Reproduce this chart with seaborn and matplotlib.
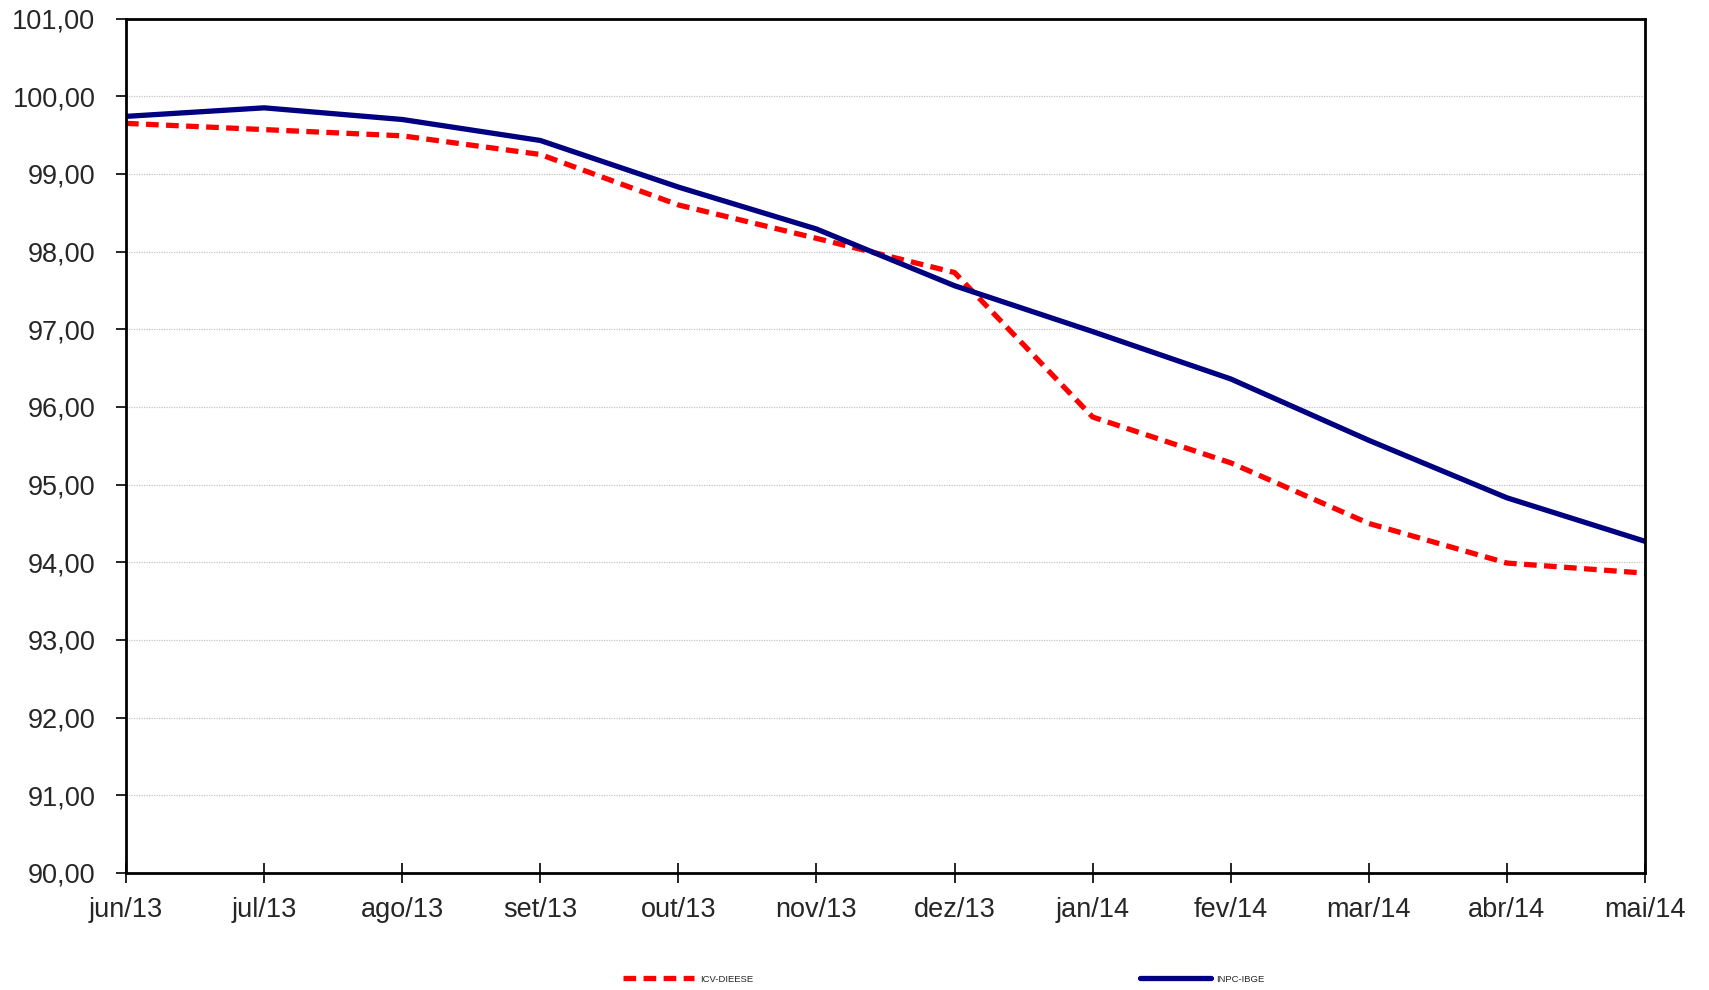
import matplotlib
matplotlib.use("Agg")
import matplotlib.pyplot as plt
import seaborn as sns
import pandas as pd
from matplotlib.ticker import FixedLocator, FuncFormatter

months = ["jun/13", "jul/13", "ago/13", "set/13", "out/13", "nov/13",
          "dez/13", "jan/14", "fev/14", "mar/14", "abr/14", "mai/14"]
icv_dieese = [99.65, 99.57, 99.49, 99.25, 98.60, 98.17, 97.73, 95.87, 95.28, 94.50, 93.99, 93.86]
inpc_ibge = [99.74, 99.85, 99.70, 99.43, 98.83, 98.29, 97.56, 96.97, 96.36, 95.57, 94.83, 94.27]
y_ticks = [90, 91, 92, 93, 94, 95, 96, 97, 98, 99, 100, 101]

sns.set_style("white")
plt.rcParams['font.family'] = ['Liberation Sans', 'DejaVu Sans']

fig = plt.figure(figsize=(17.09, 9.9), dpi=100)
ax = fig.add_axes([126 / 1709, 1 - 873 / 990, (1645 - 126) / 1709, (873 - 18.5) / 990])

df = pd.DataFrame({"pos": list(range(len(months))), "ICV-DIEESE": icv_dieese, "INPC-IBGE": inpc_ibge})

sns.lineplot(data=df, x="pos", y="ICV-DIEESE", ax=ax, color="#FF0000", linewidth=3.8,
             label="ICV-DIEESE")
ax.lines[-1].set_dashes([2.4, 1.4])
sns.lineplot(data=df, x="pos", y="INPC-IBGE", ax=ax, color="#000080", linewidth=3.8,
             label="INPC-IBGE")

ax.set_xlim(0, len(months) - 1)
ax.set_ylim(90, 101)
ax.set_xticks(range(len(months)))
ax.set_xticklabels(months)
ax.yaxis.set_major_locator(FixedLocator(y_ticks))
ax.yaxis.set_major_formatter(FuncFormatter(lambda v, p: f"{v:.2f}".replace(".", ",")))
ax.set_xlabel("")
ax.set_ylabel("")

ax.grid(axis="y", color="#c4c4c4", linestyle=(0, (1, 1)), linewidth=0.9)
ax.grid(axis="x", visible=False)
for s in ax.spines.values():
    s.set_color("black")
    s.set_linewidth(2)

ax.tick_params(axis="y", direction="out", length=7, width=1.2, color="black",
               labelsize=19.5, pad=15, left=True)
ax.tick_params(axis="x", direction="inout", length=14, width=1.2, color="black",
               labelsize=19.5, pad=10, bottom=True)

ax.get_legend().remove()
handles, labels = ax.get_legend_handles_labels()
leg = fig.legend(handles, labels, loc="center", bbox_to_anchor=(944 / 1709, 1 - 979 / 990),
                 ncol=2, frameon=False, fontsize=6.8, handlelength=7.5,
                 handletextpad=0.6, columnspacing=41)

fig.savefig("out.png", dpi=100)
